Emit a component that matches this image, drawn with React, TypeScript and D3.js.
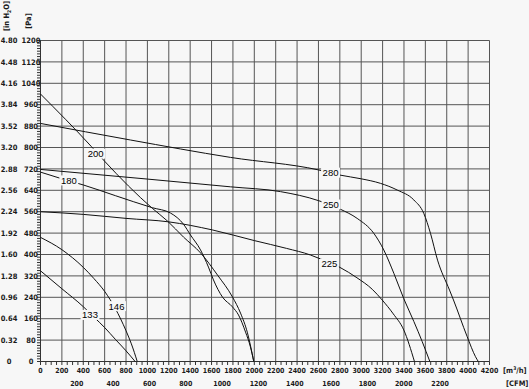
import * as d3 from "d3";

// axis ticks
const flowTicks = [0, 200, 400, 600, 800, 1000, 1200, 1400, 1600, 1800, 2000, 2200, 2400, 2600, 2800, 3000, 3200, 3400, 3600, 3800, 4000, 4200];
const cfmTicks = [200, 400, 600, 800, 1000, 1200, 1400, 1600, 1800, 2000, 2200];
const paTicks = [0, 80, 160, 240, 320, 400, 480, 560, 640, 720, 800, 880, 960, 1040, 1120, 1200];
const inH2OLabels = ["0", "0.32", "0.64", "0.96", "1.28", "1.60", "1.92", "2.24", "2.56", "2.88", "3.20", "3.52", "3.84", "4.16", "4.48", "4.80"];
const M3H_PER_CFM = 1.699;

// fan curves: [flow m3/h, pressure Pa]
const fan133: [number, number][] = [[0, 339], [200, 272], [400, 205], [500, 166], [600, 127], [700, 83], [800, 40], [885, 0]];
const fan146: [number, number][] = [[0, 464], [200, 418], [400, 352], [500, 310], [600, 262], [700, 198], [800, 115], [850, 66], [905, 0]];
const fan180: [number, number][] = [[0, 708], [200, 683], [400, 660], [700, 620], [1045, 575], [1216, 555], [1340, 512], [1403, 473], [1497, 417], [1571, 353], [1618, 305], [1702, 241], [1796, 204], [1852, 174], [1918, 110], [1964, 54], [1995, 0]];
const fan200: [number, number][] = [[0, 1000], [477, 803], [599, 749], [1045, 573], [1188, 525], [1338, 465], [1497, 406], [1656, 323], [1796, 241], [1871, 181], [1936, 107], [1995, 0]];
const fan225: [number, number][] = [[0, 560], [400, 550], [800, 535], [1200, 522], [1606, 492], [2000, 452], [2300, 423], [2526, 398], [2603, 386], [2800, 352], [2960, 313], [3103, 270], [3196, 230], [3300, 178], [3398, 118], [3498, 0]];
const fan250: [number, number][] = [[0, 718], [1000, 682], [1777, 653], [2245, 635], [2603, 601], [2806, 569], [2962, 535], [3118, 479], [3211, 417], [3305, 330], [3398, 235], [3492, 150], [3570, 75], [3642, 0]];
const fan280: [number, number][] = [[0, 890], [842, 828], [1777, 763], [2603, 716], [2800, 697], [3000, 683], [3180, 666], [3337, 641], [3492, 604], [3585, 554], [3648, 479], [3714, 379], [3826, 267], [3863, 230], [3991, 93], [4069, 18], [4095, 0]];

// label anchors in data units
const fanNames = ["133", "146", "180", "200", "225", "250", "280"];
const labelFlow = [463, 711, 265, 516, 2703, 2717, 2713];
const labelPressure = [174, 207, 677, 777, 366, 587, 706];

const fans = [fan133, fan146, fan180, fan200, fan225, fan250, fan280];

const BG = "#f7f7f7";
const axisFont = { fontFamily: "'DejaVu Sans Condensed', 'DejaVu Sans', sans-serif", fontWeight: 700, fontSize: 7.5, fill: "#1a1a1a" } as const;

export default function App() {
  const x = d3.scaleLinear().domain([0, 4200]).range([40.5, 489.5]);
  const y = d3.scaleLinear().domain([0, 1200]).range([361.5, 40.5]);
  const line = d3
    .line<[number, number]>()
    .x((d) => x(d[0]))
    .y((d) => y(d[1]))
    .curve(d3.curveMonotoneX);

  const minorX = d3.range(0, 4201, 50);
  const minorY = d3.range(0, 1201, 10);

  return (
    <div style={{ position: "fixed", left: 0, top: 0 }}>
      <svg width={529} height={389} style={{ display: "block" }}>
        <rect width={529} height={389} fill={BG} />

        {/* grid */}
        {flowTicks.map((t) => (
          <line key={"gx" + t} x1={x(t)} x2={x(t)} y1={y(0)} y2={y(1200)} stroke="#555" strokeWidth={1} />
        ))}
        {paTicks.map((t) => (
          <line key={"gy" + t} x1={x(0)} x2={x(4200)} y1={y(t)} y2={y(t)} stroke="#555" strokeWidth={1} />
        ))}

        {/* minor ticks */}
        {minorX.map((t) => (
          <line key={"mx" + t} x1={x(t)} x2={x(t)} y1={y(0)} y2={y(0) + 3.5} stroke="#333" />
        ))}
        {minorY.map((t) => (
          <line key={"my" + t} x1={x(0) - 3.5} x2={x(0)} y1={y(t)} y2={y(t)} stroke="#333" />
        ))}

        {/* axes */}
        <line x1={x(0)} x2={x(0)} y1={y(0)} y2={y(1200)} stroke="#333" />
        <line x1={x(0)} x2={x(4200)} y1={y(0)} y2={y(0)} stroke="#333" />

        {/* curves */}
        {fans.map((pts, i) => (
          <path key={"c" + i} d={line(pts) ?? ""} fill="none" stroke="#111" strokeWidth={1} />
        ))}

        {/* curve labels */}
        {fanNames.map((name, i) => {
          const cx = x(labelFlow[i]);
          const cy = y(labelPressure[i]);
          const w = name.length * 5.3 + 3;
          return (
            <g key={"l" + name}>
              <rect x={cx - w / 2} y={cy - 5} width={w} height={10} fill={BG} />
              <text x={cx} y={cy} dy="0.36em" textAnchor="middle" fontFamily="'Liberation Sans', Arial, sans-serif" fontSize={9.5} fill="#000">
                {name}
              </text>
            </g>
          );
        })}

        {/* y labels */}
        {paTicks.map((t, i) => (
          <g key={"yl" + t}>
            <text x={31} y={y(t)} dy="0.35em" textAnchor="middle" {...axisFont}>
              {t}
            </text>
            <text x={9} y={y(t)} dy="0.35em" textAnchor="middle" {...axisFont}>
              {inH2OLabels[i]}
            </text>
          </g>
        ))}

        {/* x labels */}
        {flowTicks.map((t) => (
          <text key={"xl" + t} x={x(t)} y={372.5} textAnchor="middle" {...axisFont} fontSize={7}>
            {t}
          </text>
        ))}
        {cfmTicks.map((t) => (
          <text key={"cl" + t} x={x(t * M3H_PER_CFM)} y={386} textAnchor="middle" {...axisFont} fontSize={7}>
            {t}
          </text>
        ))}

        {/* unit titles */}
        <text transform="translate(9,16) rotate(-90)" textAnchor="middle" {...axisFont}>
          [in H<tspan fontSize={5} dy={1.5}>2</tspan>
          <tspan dy={-1.5}>O]</tspan>
        </text>
        <text transform="translate(31,21) rotate(-90)" textAnchor="middle" {...axisFont}>
          [Pa]
        </text>
        <text x={503} y={372.5} {...axisFont}>
          [m<tspan fontSize={5} dy={-3}>3</tspan>
          <tspan dy={3}>/h]</tspan>
        </text>
        <text x={506} y={386} {...axisFont}>
          [CFM]
        </text>
      </svg>
    </div>
  );
}
